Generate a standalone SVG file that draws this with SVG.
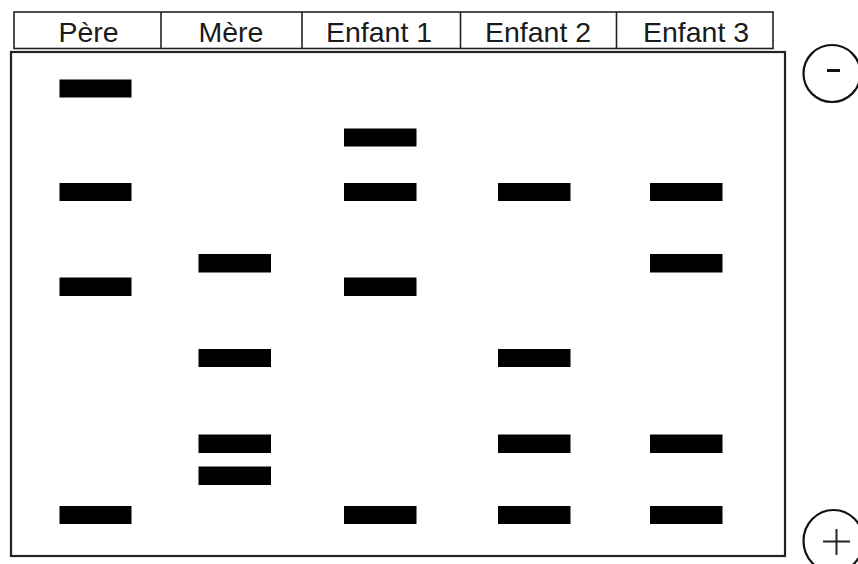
<svg xmlns="http://www.w3.org/2000/svg" width="858" height="564" viewBox="0 0 858 564">
<style>
.hdr{fill:#fff;stroke:#222;stroke-width:1.6}
.lbl{font-family:"Liberation Sans",Arial,sans-serif;font-size:28.5px;fill:#1a1a1a;text-anchor:middle}
.gel{fill:#fff;stroke:#222;stroke-width:2.2}
.band{fill:#000}
.pole{fill:#fff;stroke:#111;stroke-width:2.2}
.sign{stroke:#222;stroke-width:2;fill:none}
.dash{stroke:#111;stroke-width:3;fill:none}
</style>
<rect width="858" height="564" fill="#fff"/>
<g id="header">
<rect class="hdr" x="14" y="12" width="759" height="36.5"/>
<line class="hdr" x1="161" y1="12" x2="161" y2="48.5"/>
<line class="hdr" x1="302" y1="12" x2="302" y2="48.5"/>
<line class="hdr" x1="460.5" y1="12" x2="460.5" y2="48.5"/>
<line class="hdr" x1="616.5" y1="12" x2="616.5" y2="48.5"/>
<text class="lbl" x="88.5" y="42">Père</text>
<text class="lbl" x="231" y="42">Mère</text>
<text class="lbl" x="379" y="42">Enfant 1</text>
<text class="lbl" x="538" y="42">Enfant 2</text>
<text class="lbl" x="696" y="42">Enfant 3</text>
</g>
<g id="gel">
<rect class="gel" x="11" y="52" width="774" height="504"/>
</g>
<g id="lane-pere">
<rect class="band" x="59.5" y="79.5" width="72" height="18"/>
<rect class="band" x="59.5" y="183" width="72" height="18"/>
<rect class="band" x="59.5" y="277.5" width="72" height="18.5"/>
<rect class="band" x="59.5" y="506" width="72" height="18"/>
</g>
<g id="lane-mere">
<rect class="band" x="198.5" y="254" width="72.5" height="18.5"/>
<rect class="band" x="198.5" y="349" width="72.5" height="18"/>
<rect class="band" x="198.5" y="434.5" width="72.5" height="18.5"/>
<rect class="band" x="198.5" y="466.5" width="72.5" height="18.5"/>
</g>
<g id="lane-enfant1">
<rect class="band" x="344" y="128.5" width="72.5" height="18"/>
<rect class="band" x="344" y="183" width="72.5" height="18"/>
<rect class="band" x="344" y="277.5" width="72.5" height="18.5"/>
<rect class="band" x="344" y="506" width="72.5" height="18"/>
</g>
<g id="lane-enfant2">
<rect class="band" x="498" y="183" width="72.5" height="18"/>
<rect class="band" x="498" y="349" width="72.5" height="18"/>
<rect class="band" x="498" y="434.5" width="72.5" height="18.5"/>
<rect class="band" x="498" y="506" width="72.5" height="18"/>
</g>
<g id="lane-enfant3">
<rect class="band" x="650" y="183" width="72.5" height="18"/>
<rect class="band" x="650" y="254" width="72.5" height="18.5"/>
<rect class="band" x="650" y="434.5" width="72.5" height="18.5"/>
<rect class="band" x="650" y="506" width="72.5" height="18"/>
</g>
<g id="cathode">
<ellipse class="pole" cx="832" cy="73.5" rx="28.5" ry="28.5"/>
<line class="dash" x1="827" y1="70.5" x2="840" y2="70.5"/>
</g>
<g id="anode">
<ellipse class="pole" cx="833.5" cy="541" rx="30" ry="31"/>
<line class="sign" x1="823" y1="541.5" x2="850" y2="541.5"/>
<line class="sign" x1="836.5" y1="529" x2="836.5" y2="555"/>
</g>
</svg>
